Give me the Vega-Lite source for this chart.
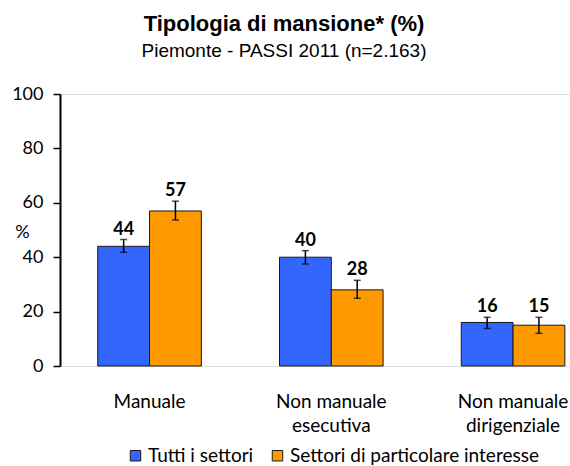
{
  "$schema": "https://vega.github.io/schema/vega-lite/v6.json",
  "autosize": "none",
  "width": 510,
  "height": 272,
  "padding": {"left": 60, "top": 94, "right": 0, "bottom": 100},
  "background": "white",
  "title": {
    "text": "Tipologia di mansione* (%)",
    "subtitle": "Piemonte - PASSI 2011 (n=2.163)",
    "font": "Liberation Sans",
    "fontSize": 22,
    "fontWeight": "bold",
    "subtitleFont": "Liberation Sans",
    "subtitleFontSize": 19,
    "subtitleColor": "black",
    "color": "black",
    "anchor": "middle",
    "dx": -31,
    "offset": 23,
    "subtitlePadding": 6
  },
  "data": {
    "values": [
      {"cat": "Manuale", "serie": "Tutti i settori", "v": 44, "lo": 41.8, "hi": 46.5},
      {"cat": "Manuale", "serie": "Settori di particolare interesse", "v": 57, "lo": 53.7, "hi": 60.6},
      {"cat": "Non manuale|esecutiva", "serie": "Tutti i settori", "v": 40, "lo": 37.5, "hi": 42.4},
      {"cat": "Non manuale|esecutiva", "serie": "Settori di particolare interesse", "v": 28, "lo": 24.9, "hi": 31.5},
      {"cat": "Non manuale|dirigenziale", "serie": "Tutti i settori", "v": 16, "lo": 13.8, "hi": 17.9},
      {"cat": "Non manuale|dirigenziale", "serie": "Settori di particolare interesse", "v": 15, "lo": 12.0, "hi": 17.9}
    ]
  },
  "encoding": {
    "x": {
      "field": "cat", "type": "nominal", "sort": null,
      "scale": {"paddingInner": 0.43, "paddingOuter": 0.118, "align": 0.88},
      "axis": {
        "title": null, "domain": false, "ticks": false, "labelAngle": 0,
        "labelExpr": "split(datum.value, '|')",
        "labelFont": "Lato", "labelFontSize": 19, "labelColor": "black",
        "labelPadding": 26, "labelLineHeight": 24, "labelBaseline": "top"
      }
    },
    "xOffset": {
      "field": "serie", "type": "nominal",
      "sort": ["Tutti i settori", "Settori di particolare interesse"],
      "scale": {"paddingInner": 0, "paddingOuter": 0}
    }
  },
  "layer": [
    {
      "mark": {"type": "bar", "stroke": "#1a1a1a", "strokeWidth": 1},
      "encoding": {
        "y": {
          "field": "v", "type": "quantitative",
          "scale": {"domain": [0, 100], "nice": false},
          "axis": {
            "values": [0, 20, 40, 60, 80, 100],
            "grid": false, "domainColor": "black", "domainWidth": 2,
            "tickColor": "black", "tickWidth": 1.5, "tickSize": 7,
            "labelFont": "Lato", "labelFontSize": 18, "labelColor": "black", "labelPadding": 10,
            "title": "%", "titleAngle": 0, "titleX": -38, "titleY": 138,
            "titleAlign": "center", "titleBaseline": "middle",
            "titleFont": "Lato", "titleFontSize": 18, "titleFontWeight": "normal", "titleColor": "black"
          }
        },
        "color": {
          "field": "serie", "type": "nominal",
          "sort": ["Tutti i settori", "Settori di particolare interesse"],
          "scale": {"domain": ["Tutti i settori", "Settori di particolare interesse"], "range": ["#3366FF", "#FF9900"]},
          "legend": {
            "title": null, "orient": "none", "direction": "horizontal",
            "legendX": 66, "legendY": 352,
            "symbolType": "square", "symbolSize": 110, "symbolStrokeColor": "#1a1a1a", "symbolStrokeWidth": 1,
            "symbolOpacity": 1, "labelLimit": 0,
            "labelFont": "Lato", "labelFontSize": 19, "labelColor": "black",
            "columnPadding": 14, "labelOffset": 3
          }
        }
      }
    },
    {
      "mark": {"type": "rule", "color": "black", "strokeWidth": 1.5},
      "encoding": {
        "y": {"field": "lo", "type": "quantitative"},
        "y2": {"field": "hi"}
      }
    },
    {
      "mark": {"type": "tick", "color": "black", "thickness": 1.5, "size": 7, "orient": "horizontal"},
      "encoding": {"y": {"field": "lo", "type": "quantitative"}}
    },
    {
      "mark": {"type": "tick", "color": "black", "thickness": 1.5, "size": 7, "orient": "horizontal"},
      "encoding": {"y": {"field": "hi", "type": "quantitative"}}
    },
    {
      "mark": {"type": "text", "font": "Lato", "fontSize": 18, "fontWeight": "bold", "baseline": "alphabetic", "dy": -5, "color": "black"},
      "encoding": {
        "y": {"field": "hi", "type": "quantitative"},
        "text": {"field": "v", "type": "quantitative"}
      }
    }
  ]
}
